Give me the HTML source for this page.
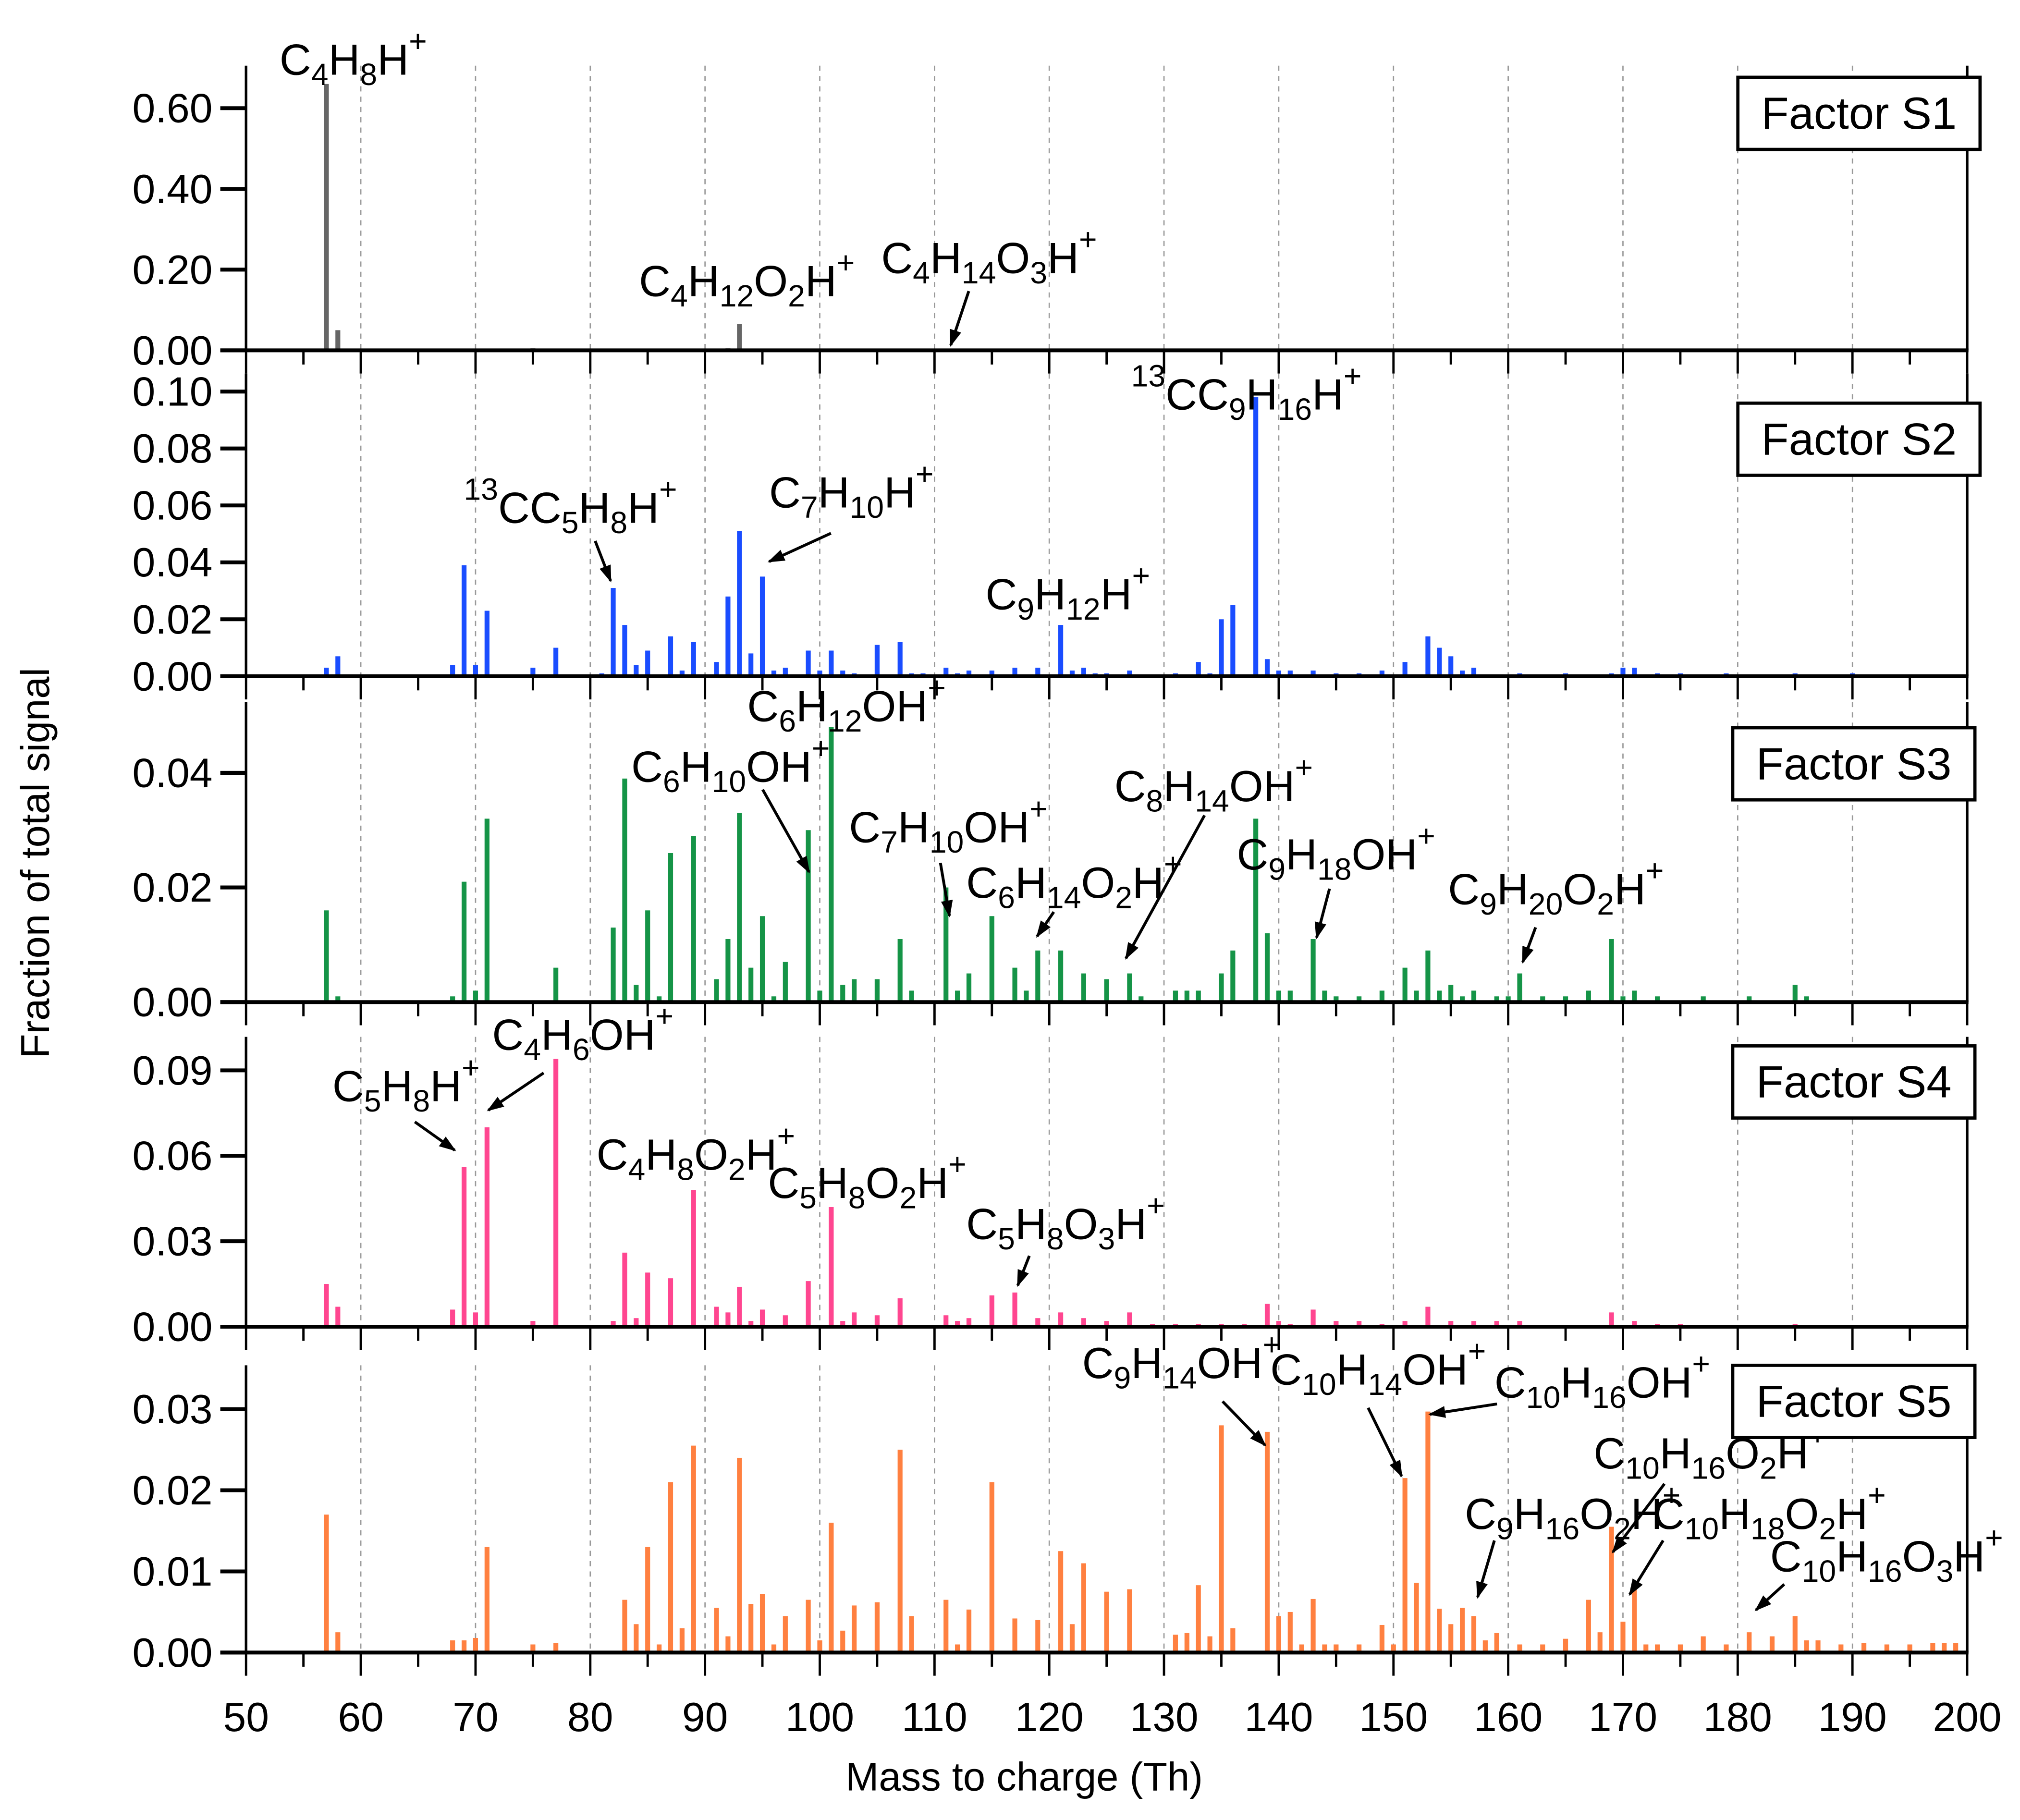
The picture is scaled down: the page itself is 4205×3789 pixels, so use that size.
<!DOCTYPE html>
<html><head><meta charset="utf-8"><style>
html,body{margin:0;padding:0;background:#fff}
svg{display:block}
text{font-family:"Liberation Sans",Arial,sans-serif;fill:#000}
.ann{font-size:34px}
.sb{font-size:24px}
</style></head><body>
<svg id="chart" width="4205" height="3789" viewBox="0 0 1568 1413" preserveAspectRatio="none" xmlns="http://www.w3.org/2000/svg">
<defs><marker id="ah" viewBox="0 0 10 10" refX="9" refY="5" markerWidth="6" markerHeight="6" orient="auto"><path d="M0,1.5 L10,5 L0,8.5 z" fill="#000"/></marker></defs>
<g id="grid"></g><g id="bars"></g><g id="axes"></g>
<text x="0" y="0" font-size="31" text-anchor="middle" transform="translate(38,670) rotate(-90)">Fraction of total signal</text>
<text x="795" y="1390" font-size="31" text-anchor="middle">Mass to charge (Th)</text>
<g id="anns" stroke-width="2.2">
<text class="ann" x="217" y="58">C<tspan class="sb" dy="8">4</tspan><tspan dy="-8">H</tspan><tspan class="sb" dy="8">8</tspan><tspan dy="-8">H</tspan><tspan class="sb" dy="-18">+</tspan></text>
<text class="ann" x="496" y="230">C<tspan class="sb" dy="8">4</tspan><tspan dy="-8">H</tspan><tspan class="sb" dy="8">12</tspan><tspan dy="-8">O</tspan><tspan class="sb" dy="8">2</tspan><tspan dy="-8">H</tspan><tspan class="sb" dy="-18">+</tspan></text>
<text class="ann" x="684" y="212">C<tspan class="sb" dy="8">4</tspan><tspan dy="-8">H</tspan><tspan class="sb" dy="8">14</tspan><tspan dy="-8">O</tspan><tspan class="sb" dy="8">3</tspan><tspan dy="-8">H</tspan><tspan class="sb" dy="-18">+</tspan></text>
<line x1="752" y1="226" x2="738" y2="268" stroke="#000" marker-end="url(#ah)"/>
<text class="ann" x="878" y="318"><tspan class="sb" dy="-18">13</tspan><tspan dy="18">C</tspan><tspan>C</tspan><tspan class="sb" dy="8">9</tspan><tspan dy="-8">H</tspan><tspan class="sb" dy="8">16</tspan><tspan dy="-8">H</tspan><tspan class="sb" dy="-18">+</tspan></text>
<text class="ann" x="360" y="406"><tspan class="sb" dy="-18">13</tspan><tspan dy="18">C</tspan><tspan>C</tspan><tspan class="sb" dy="8">5</tspan><tspan dy="-8">H</tspan><tspan class="sb" dy="8">8</tspan><tspan dy="-8">H</tspan><tspan class="sb" dy="-18">+</tspan></text>
<line x1="462" y1="420" x2="474" y2="451" stroke="#000" marker-end="url(#ah)"/>
<text class="ann" x="597" y="394">C<tspan class="sb" dy="8">7</tspan><tspan dy="-8">H</tspan><tspan class="sb" dy="8">10</tspan><tspan dy="-8">H</tspan><tspan class="sb" dy="-18">+</tspan></text>
<line x1="645" y1="414" x2="597" y2="436" stroke="#000" marker-end="url(#ah)"/>
<text class="ann" x="765" y="473">C<tspan class="sb" dy="8">9</tspan><tspan dy="-8">H</tspan><tspan class="sb" dy="8">12</tspan><tspan dy="-8">H</tspan><tspan class="sb" dy="-18">+</tspan></text>
<text class="ann" x="580" y="560">C<tspan class="sb" dy="8">6</tspan><tspan dy="-8">H</tspan><tspan class="sb" dy="8">12</tspan><tspan dy="-8">OH</tspan><tspan class="sb" dy="-18">+</tspan></text>
<text class="ann" x="490" y="607">C<tspan class="sb" dy="8">6</tspan><tspan dy="-8">H</tspan><tspan class="sb" dy="8">10</tspan><tspan dy="-8">OH</tspan><tspan class="sb" dy="-18">+</tspan></text>
<line x1="592" y1="613" x2="628" y2="677" stroke="#000" marker-end="url(#ah)"/>
<text class="ann" x="659" y="654">C<tspan class="sb" dy="8">7</tspan><tspan dy="-8">H</tspan><tspan class="sb" dy="8">10</tspan><tspan dy="-8">OH</tspan><tspan class="sb" dy="-18">+</tspan></text>
<line x1="730" y1="670" x2="737" y2="711" stroke="#000" marker-end="url(#ah)"/>
<text class="ann" x="750" y="697">C<tspan class="sb" dy="8">6</tspan><tspan dy="-8">H</tspan><tspan class="sb" dy="8">14</tspan><tspan dy="-8">O</tspan><tspan class="sb" dy="8">2</tspan><tspan dy="-8">H</tspan><tspan class="sb" dy="-18">+</tspan></text>
<line x1="818" y1="708" x2="805" y2="727" stroke="#000" marker-end="url(#ah)"/>
<text class="ann" x="865" y="622">C<tspan class="sb" dy="8">8</tspan><tspan dy="-8">H</tspan><tspan class="sb" dy="8">14</tspan><tspan dy="-8">OH</tspan><tspan class="sb" dy="-18">+</tspan></text>
<line x1="935" y1="633" x2="874" y2="744" stroke="#000" marker-end="url(#ah)"/>
<text class="ann" x="960" y="675">C<tspan class="sb" dy="8">9</tspan><tspan dy="-8">H</tspan><tspan class="sb" dy="8">18</tspan><tspan dy="-8">OH</tspan><tspan class="sb" dy="-18">+</tspan></text>
<line x1="1032" y1="690" x2="1022" y2="728" stroke="#000" marker-end="url(#ah)"/>
<text class="ann" x="1124" y="702">C<tspan class="sb" dy="8">9</tspan><tspan dy="-8">H</tspan><tspan class="sb" dy="8">20</tspan><tspan dy="-8">O</tspan><tspan class="sb" dy="8">2</tspan><tspan dy="-8">H</tspan><tspan class="sb" dy="-18">+</tspan></text>
<line x1="1192" y1="720" x2="1182" y2="747" stroke="#000" marker-end="url(#ah)"/>
<text class="ann" x="258" y="855">C<tspan class="sb" dy="8">5</tspan><tspan dy="-8">H</tspan><tspan class="sb" dy="8">8</tspan><tspan dy="-8">H</tspan><tspan class="sb" dy="-18">+</tspan></text>
<line x1="322" y1="871" x2="353" y2="893" stroke="#000" marker-end="url(#ah)"/>
<text class="ann" x="382" y="815">C<tspan class="sb" dy="8">4</tspan><tspan dy="-8">H</tspan><tspan class="sb" dy="8">6</tspan><tspan dy="-8">OH</tspan><tspan class="sb" dy="-18">+</tspan></text>
<line x1="422" y1="833" x2="379" y2="862" stroke="#000" marker-end="url(#ah)"/>
<text class="ann" x="463" y="908">C<tspan class="sb" dy="8">4</tspan><tspan dy="-8">H</tspan><tspan class="sb" dy="8">8</tspan><tspan dy="-8">O</tspan><tspan class="sb" dy="8">2</tspan><tspan dy="-8">H</tspan><tspan class="sb" dy="-18">+</tspan></text>
<text class="ann" x="596" y="930">C<tspan class="sb" dy="8">5</tspan><tspan dy="-8">H</tspan><tspan class="sb" dy="8">8</tspan><tspan dy="-8">O</tspan><tspan class="sb" dy="8">2</tspan><tspan dy="-8">H</tspan><tspan class="sb" dy="-18">+</tspan></text>
<text class="ann" x="750" y="962">C<tspan class="sb" dy="8">5</tspan><tspan dy="-8">H</tspan><tspan class="sb" dy="8">8</tspan><tspan dy="-8">O</tspan><tspan class="sb" dy="8">3</tspan><tspan dy="-8">H</tspan><tspan class="sb" dy="-18">+</tspan></text>
<line x1="799" y1="975" x2="790" y2="998" stroke="#000" marker-end="url(#ah)"/>
<text class="ann" x="840" y="1070">C<tspan class="sb" dy="8">9</tspan><tspan dy="-8">H</tspan><tspan class="sb" dy="8">14</tspan><tspan dy="-8">OH</tspan><tspan class="sb" dy="-18">+</tspan></text>
<line x1="949" y1="1088" x2="982" y2="1122" stroke="#000" marker-end="url(#ah)"/>
<text class="ann" x="986" y="1075">C<tspan class="sb" dy="8">10</tspan><tspan dy="-8">H</tspan><tspan class="sb" dy="8">14</tspan><tspan dy="-8">OH</tspan><tspan class="sb" dy="-18">+</tspan></text>
<line x1="1062" y1="1093" x2="1088" y2="1146" stroke="#000" marker-end="url(#ah)"/>
<text class="ann" x="1160" y="1085">C<tspan class="sb" dy="8">10</tspan><tspan dy="-8">H</tspan><tspan class="sb" dy="8">16</tspan><tspan dy="-8">OH</tspan><tspan class="sb" dy="-18">+</tspan></text>
<line x1="1162" y1="1090" x2="1110" y2="1098" stroke="#000" marker-end="url(#ah)"/>
<text class="ann" x="1237" y="1140">C<tspan class="sb" dy="8">10</tspan><tspan dy="-8">H</tspan><tspan class="sb" dy="8">16</tspan><tspan dy="-8">O</tspan><tspan class="sb" dy="8">2</tspan><tspan dy="-8">H</tspan><tspan class="sb" dy="-18">+</tspan></text>
<line x1="1292" y1="1152" x2="1252" y2="1205" stroke="#000" marker-end="url(#ah)"/>
<text class="ann" x="1137" y="1187">C<tspan class="sb" dy="8">9</tspan><tspan dy="-8">H</tspan><tspan class="sb" dy="8">16</tspan><tspan dy="-8">O</tspan><tspan class="sb" dy="8">2</tspan><tspan dy="-8">H</tspan><tspan class="sb" dy="-18">+</tspan></text>
<line x1="1160" y1="1196" x2="1147" y2="1240" stroke="#000" marker-end="url(#ah)"/>
<text class="ann" x="1283" y="1187">C<tspan class="sb" dy="8">10</tspan><tspan dy="-8">H</tspan><tspan class="sb" dy="8">18</tspan><tspan dy="-8">O</tspan><tspan class="sb" dy="8">2</tspan><tspan dy="-8">H</tspan><tspan class="sb" dy="-18">+</tspan></text>
<line x1="1291" y1="1196" x2="1265" y2="1238" stroke="#000" marker-end="url(#ah)"/>
<text class="ann" x="1374" y="1220">C<tspan class="sb" dy="8">10</tspan><tspan dy="-8">H</tspan><tspan class="sb" dy="8">16</tspan><tspan dy="-8">O</tspan><tspan class="sb" dy="8">3</tspan><tspan dy="-8">H</tspan><tspan class="sb" dy="-18">+</tspan></text>
<line x1="1385" y1="1230" x2="1363" y2="1250" stroke="#000" marker-end="url(#ah)"/>
</g>
<g id="legends"></g>
</svg>
<script>
const massS1=[57,58,69,71,75,77,91,92,93,111];
const valS1=[0.66,0.05,0.002,0.003,0.005,0.002,0.003,0.005,0.065,0.003];
const massS2=[57,58,68,69,70,71,75,77,81,82,83,84,85,87,88,89,91,92,93,94,95,96,97,99,100,101,102,103,105,107,108,109,111,112,113,115,117,119,121,122,123,124,125,127,131,133,134,135,136,138,139,140,141,143,145,147,149,151,153,154,155,156,157,161,165,169,170,171,173,175,179,185,190];
const valS2=[0.003,0.007,0.004,0.039,0.004,0.023,0.003,0.010,0.001,0.031,0.018,0.004,0.009,0.014,0.002,0.012,0.005,0.028,0.051,0.008,0.035,0.002,0.003,0.009,0.002,0.009,0.002,0.001,0.011,0.012,0.001,0.001,0.003,0.001,0.002,0.002,0.003,0.003,0.018,0.002,0.003,0.001,0.001,0.002,0.001,0.005,0.001,0.020,0.025,0.098,0.006,0.002,0.002,0.002,0.001,0.001,0.002,0.005,0.014,0.010,0.007,0.002,0.003,0.001,0.001,0.001,0.003,0.003,0.001,0.001,0.001,0.001,0.001];
const massS3=[57,58,68,69,70,71,77,82,83,84,85,86,87,89,91,92,93,94,95,96,97,99,100,101,102,103,105,107,108,111,112,113,115,117,118,119,121,123,125,127,128,131,132,133,135,136,138,139,140,141,143,144,145,147,149,151,152,153,154,155,156,157,159,160,161,163,165,167,169,170,171,173,177,181,185,186];
const valS3=[0.016,0.001,0.001,0.021,0.002,0.032,0.006,0.013,0.039,0.003,0.016,0.001,0.026,0.029,0.004,0.011,0.033,0.006,0.015,0.001,0.007,0.030,0.002,0.048,0.003,0.004,0.004,0.011,0.002,0.020,0.002,0.005,0.015,0.006,0.002,0.009,0.009,0.005,0.004,0.005,0.001,0.002,0.002,0.002,0.005,0.009,0.032,0.012,0.002,0.002,0.011,0.002,0.001,0.001,0.002,0.006,0.002,0.009,0.002,0.003,0.001,0.002,0.001,0.001,0.005,0.001,0.001,0.002,0.011,0.001,0.002,0.001,0.001,0.001,0.003,0.001];
const massS4=[57,58,68,69,70,71,75,77,82,83,84,85,87,89,91,92,93,94,95,97,99,101,102,103,105,107,111,112,113,115,117,119,121,123,125,127,129,131,133,135,137,139,140,141,143,145,147,149,151,153,155,157,159,161,169,171,173,175,185];
const valS4=[0.015,0.007,0.006,0.056,0.005,0.070,0.002,0.094,0.002,0.026,0.003,0.019,0.017,0.048,0.007,0.005,0.014,0.002,0.006,0.004,0.016,0.042,0.002,0.005,0.004,0.010,0.004,0.002,0.003,0.011,0.012,0.003,0.005,0.003,0.002,0.005,0.001,0.001,0.001,0.001,0.001,0.008,0.002,0.001,0.006,0.002,0.002,0.001,0.002,0.007,0.002,0.002,0.002,0.002,0.005,0.002,0.001,0.001,0.001];
const massS5=[57,58,68,69,70,71,75,77,83,84,85,86,87,88,89,91,92,93,94,95,96,97,99,100,101,102,103,105,107,108,111,112,113,115,117,119,121,122,123,125,127,131,132,133,134,135,136,139,140,141,142,143,144,145,147,149,150,151,152,153,154,155,156,157,158,159,161,163,165,167,168,169,170,171,172,173,175,177,179,181,183,185,186,187,189,191,193,195,197,198,199];
const valS5=[0.017,0.0025,0.0015,0.0015,0.0018,0.013,0.001,0.0012,0.0065,0.0035,0.013,0.001,0.021,0.003,0.0255,0.0055,0.002,0.024,0.006,0.0072,0.001,0.0045,0.0065,0.0015,0.016,0.0027,0.0058,0.0062,0.025,0.0045,0.0065,0.001,0.0053,0.021,0.0042,0.004,0.0125,0.0035,0.011,0.0075,0.0078,0.0022,0.0024,0.0083,0.002,0.028,0.003,0.0272,0.0045,0.005,0.001,0.0066,0.001,0.001,0.001,0.0034,0.001,0.0215,0.0086,0.0297,0.0054,0.0035,0.0055,0.0045,0.0015,0.0024,0.001,0.001,0.0017,0.0065,0.0025,0.0155,0.0038,0.0083,0.001,0.001,0.001,0.002,0.001,0.0025,0.002,0.0045,0.0015,0.0015,0.001,0.0012,0.001,0.001,0.0012,0.0012,0.0012];
const ticksS1=["0.00","0.20","0.40","0.60"];
const ticksS2=["0.00","0.02","0.04","0.06","0.08","0.10"];
const ticksS3=["0.00","0.02","0.04"];
const ticksS4=["0.00","0.03","0.06","0.09"];
const ticksS5=["0.00","0.01","0.02","0.03"];
const xTicks=["50","60","70","80","90","100","110","120","130","140","150","160","170","180","190","200"];
const factorNames=["Factor S1","Factor S2","Factor S3","Factor S4","Factor S5"];

const NS="http://www.w3.org/2000/svg";
const X0=191,X1=1527,XMIN=50,XMAX=200;
function xs(m){return X0+(m-XMIN)/(XMAX-XMIN)*(X1-X0);}
const panels=[
 {mass:massS1,val:valS1,ticks:ticksS1,top:51,zero:272,ymax:0.6,ypx:188,color:"#666666",leg:[1349,60]},
 {mass:massS2,val:valS2,ticks:ticksS2,top:290,zero:525,ymax:0.10,ypx:221,color:"#1a4dff",leg:[1349,313]},
 {mass:massS3,val:valS3,ticks:ticksS3,top:545,zero:778,ymax:0.04,ypx:178,color:"#159447",leg:[1345,565]},
 {mass:massS4,val:valS4,ticks:ticksS4,top:805,zero:1030,ymax:0.09,ypx:199,color:"#ff4690",leg:[1345,812]},
 {mass:massS5,val:valS5,ticks:ticksS5,top:1060,zero:1283,ymax:0.03,ypx:189,color:"#ff8040",leg:[1345,1060]}
];
function mk(tag,attrs,parent){const e=document.createElementNS(NS,tag);for(const k in attrs)e.setAttribute(k,attrs[k]);parent.appendChild(e);return e;}
const G=document.getElementById('grid'),B=document.getElementById('bars'),A=document.getElementById('axes'),L=document.getElementById('legends');
panels.forEach((p,pi)=>{
  const ys=v=>p.zero-v/p.ymax*p.ypx;
  for(let m=60;m<200;m+=10){
    const g=mk('line',{x1:xs(m),x2:xs(m),y1:p.top,y2:p.zero,stroke:'#999','stroke-width':1,'stroke-dasharray':'4,4'},G);
    
    
  }
  p.mass.forEach((m,i)=>{
    const y=ys(p.val[i]);
    const r=mk('rect',{x:xs(m)-1.9,y:y,width:3.8,height:p.zero-y,fill:p.color},B);
    
    
  });
  const ya=mk('line',{x1:X0,x2:X0,y1:p.top,y2:p.zero,stroke:'#000','stroke-width':2},A);
  
  
  const ra=mk('line',{x1:X1,x2:X1,y1:p.top,y2:p.zero,stroke:'#000','stroke-width':2},A);
  
  
  const xa=mk('line',{x1:X0-20,x2:X1+1,y1:p.zero,y2:p.zero,stroke:'#000','stroke-width':3},A);
  
  
  for(let m=50;m<=200;m+=5){
    const maj=(m%10===0);
    const t=mk('line',{x1:xs(m),x2:xs(m),y1:p.zero,y2:p.zero+(maj?18:11),stroke:'#000','stroke-width':1.8},A);
    
    
  }
  p.ticks.forEach(s=>{
    const v=parseFloat(s),y=ys(v);
    const t=mk('line',{x1:X0-20,x2:X0,y1:y,y2:y,stroke:'#000','stroke-width':3},A);
    
    
    const tx=mk('text',{x:X0-26,y:y+11,'font-size':32,'text-anchor':'end'},A);
    tx.textContent=s;
    
    
  });
  const bx=mk('rect',{x:p.leg[0],y:p.leg[1],width:188,height:56,fill:'#fff',stroke:'#000','stroke-width':2.5},L);
  
  
  const lt=mk('text',{x:p.leg[0]+94,y:p.leg[1]+40,'font-size':35,'text-anchor':'middle'},L);
  lt.textContent=factorNames[pi];
  
  
});
xTicks.forEach(s=>{
  const t=mk('text',{x:xs(parseFloat(s)),y:1344,'font-size':32,'text-anchor':'middle'},A);
  t.textContent=s;
  
  
});
</script>
</body></html>
